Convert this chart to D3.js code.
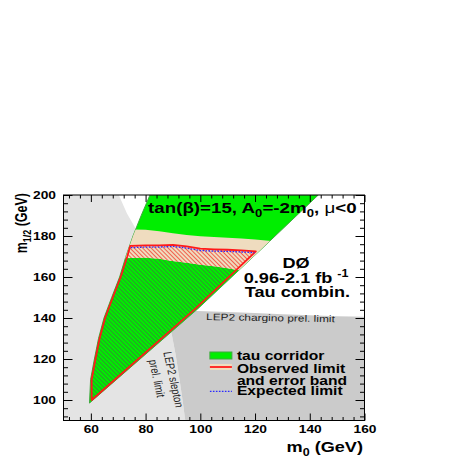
<!DOCTYPE html>
<html>
<head>
<meta charset="utf-8">
<script src="https://cdn.jsdelivr.net/npm/d3@7"></script>
<style>
body { margin: 0; background: #fff; }
svg { display: block; font-family: "Liberation Sans", Arial, sans-serif; }
</style>
</head>
<body>
<div id="app"></div>
<script>
// tick values
const xTicks = [60, 80, 100, 120, 140, 160];
const yTicks = [100, 120, 140, 160, 180, 200];
const xMinor = [52, 56, 64, 68, 72, 76, 84, 88, 92, 96, 104, 108, 112, 116, 124, 128, 132, 136, 144, 148, 152, 156];
const yMinor = [92, 96, 104, 108, 112, 116, 124, 128, 132, 136, 144, 148, 152, 156, 164, 168, 172, 176, 184, 188, 192, 196];

// all points are [m0, m1/2] in GeV
const corridorLeft = [[59.5, 98.5], [59.9, 110], [61.3, 120], [62.8, 130], [64.8, 140], [67.6, 150], [70.5, 160], [72.8, 170], [75.4, 180], [78.4, 190], [81.6, 200]];
const corridorRight = [[143.1, 200], [121.2, 172.2], [99, 144.4], [59.5, 98.5]];

const obsLeft = [[60.3, 100], [60.3, 110], [61.7, 120], [63.2, 130], [65.2, 140], [68, 150], [70.9, 160], [73.3, 170], [74.4, 175.2]];
const obsTop = [[80, 175.4], [85, 175.4], [90, 175.7], [95, 174.9], [100, 173.8], [105, 173.5], [110, 173.3], [115, 173], [120.3, 172.5]];
const obsRight = [[98.2, 144.6], [60.3, 100]];
const expLimit = [[74.6, 174.3], [80, 174.6], [85, 174.6], [90, 174.9], [95, 174.1], [100, 172.9], [105, 172.6], [110, 172.5], [115, 172.2], [119.8, 171.9]];

const bandTop = [[70, 183], [76, 183.2], [80, 183], [85, 182.3], [90, 181.3], [95, 180.5], [100, 179.9], [105, 179.5], [110, 179.2], [115, 178.8], [120, 178.3], [126, 177.6], [135, 176.5]];
const bandBottom = [[70, 169.2], [80, 169.4], [85, 168.9], [89, 167.9], [95, 167], [100, 166], [105, 165.2], [110, 164.3], [118, 162.3], [125, 161], [135, 159]];

const sleptonLimit = [[70.2, 200], [73.2, 191], [76.2, 184], [80, 172], [84, 157], [87.5, 143], [89.6, 131.7], [91, 122], [92.4, 110], [93.5, 100], [94.5, 90]];
const charginoLimit = [[87.5, 143.8], [98.8, 143.4], [110, 142.9], [120, 142.4], [130, 141.8], [140, 141.3], [150, 140.9], [160, 140.6]];

const legendLabels = ['tau corridor', 'Observed limit', 'and error band', 'Expected limit'];

const width = 463, height = 469;
const margin = { top: 195, right: 98.5, bottom: 48.5, left: 63.5 };
const S = 1.25; // text is a bit wide in the original

const x = d3.scaleLinear().domain([50, 160]).range([margin.left, width - margin.right]);
const y = d3.scaleLinear().domain([90, 200]).range([height - margin.bottom, margin.top]);
const line = d3.line(d => x(d[0]), d => y(d[1]));
const poly = pts => line(pts) + 'Z';

const svg = d3.select('#app').append('svg').attr('width', width).attr('height', height);
const defs = svg.append('defs');

const hatch = (id, color, w) => {
    const p = defs.append('pattern').attr('id', id)
        .attr('patternUnits', 'userSpaceOnUse')
        .attr('width', 3).attr('height', 3)
        .attr('patternTransform', 'rotate(-45)');
    p.append('line').attr('x1', 0.5).attr('y1', 0).attr('x2', 0.5).attr('y2', 3)
        .attr('stroke', color).attr('stroke-width', w);
};
hatch('hatchGreen', '#2c9c2c', 1);
hatch('hatchRed', '#f2604e', 1);

const corridor = corridorLeft.concat(corridorRight);
const observed = obsLeft.concat(obsTop, obsRight);
const band = bandTop.concat(bandBottom.slice().reverse());

defs.append('clipPath').attr('id', 'clipPlot').append('rect')
    .attr('x', margin.left).attr('y', margin.top)
    .attr('width', x(160) - x(50)).attr('height', y(90) - y(200));
defs.append('clipPath').attr('id', 'clipCorr').append('path').attr('d', poly(corridor));
defs.append('clipPath').attr('id', 'clipObs').append('path').attr('d', poly(observed));

const plot = svg.append('g').attr('clip-path', 'url(#clipPlot)');

// LEP2 slepton region
plot.append('path')
    .attr('d', poly([[50, 90], [50, 200]].concat(sleptonLimit)))
    .attr('fill', '#e4e4e4');

// LEP2 chargino region (closed back up along the slepton line)
const slepUp = sleptonLimit.filter(d => d[1] < 143.8).reverse();
plot.append('path')
    .attr('d', poly(charginoLimit.concat([[160, 90]], slepUp)))
    .attr('fill', '#cbcbcb');

// tau corridor
plot.append('path').attr('d', poly(corridor))
    .attr('fill', '#00ee00').attr('stroke', '#3fa83f').attr('stroke-width', 1);

const inCorr = plot.append('g').attr('clip-path', 'url(#clipCorr)');
inCorr.append('path').attr('d', poly(band)).attr('fill', '#efdcbf');
inCorr.append('path').attr('d', poly(observed)).attr('fill', 'url(#hatchGreen)');
const inObs = inCorr.append('g').attr('clip-path', 'url(#clipObs)');
inObs.append('path').attr('d', poly(band)).attr('fill', '#efdcbf');
inObs.append('path').attr('d', poly(band)).attr('fill', 'url(#hatchRed)');

// observed limit outline
plot.append('path').attr('d', poly(observed))
    .attr('fill', 'none').attr('stroke', '#ff1a1a').attr('stroke-width', 1.8)
    .attr('stroke-linejoin', 'round');

// expected limit
plot.append('path').attr('d', line(expLimit))
    .attr('fill', 'none').attr('stroke', '#2a2aff').attr('stroke-width', 1.3)
    .attr('stroke-dasharray', '1.6,1.4');

// text helper
const txt = (px, py, size, weight, anchor, rot) => svg.append('text')
    .attr('transform', `translate(${px},${py}) scale(${S},1)` + (rot ? ` rotate(${rot})` : ''))
    .attr('font-size', size).attr('font-weight', weight).attr('text-anchor', anchor);

let t = txt(x(80.9), y(191.1), 15, 'bold', 'start');
t.append('tspan').text('tan(β)=15, A');
t.append('tspan').attr('font-size', 10.5).attr('dy', 4).text('0');
t.append('tspan').attr('dy', -4).text('=-2m');
t.append('tspan').attr('font-size', 10.5).attr('dy', 4).text('0');
t.append('tspan').attr('dy', -4).text(', ');
t.append('tspan').attr('font-weight', 'normal').text('μ');
t.append('tspan').text('<0');

txt(x(135), y(164.2), 14.5, 'bold', 'middle').text('DØ');
t = txt(x(135), y(156.9), 14.5, 'bold', 'middle');
t.append('tspan').text('0.96-2.1 fb ');
t.append('tspan').attr('font-size', 10).attr('dy', -6).text('-1');
txt(x(135.5), y(150.1), 14.5, 'bold', 'middle').text('Tau combin.');

txt(x(102.1), y(139), 9.5, 'normal', 'start', 1.2).attr('fill', '#222').text('LEP2 chargino prel. limit');
txt(x(90.2), y(110), 9.5, 'normal', 'middle', 80).attr('fill', '#222').attr('dy', '0.35em').text('LEP2 slepton');
txt(x(84.2), y(110.5), 9.5, 'normal', 'middle', 80).attr('fill', '#222').attr('dy', '0.35em').text('prel. limit');

// legend
const lx = x(103.5), lw = 22;
svg.append('rect').attr('x', lx).attr('y', 352).attr('width', lw).attr('height', 7)
    .attr('fill', '#00ee00').attr('stroke', '#3fa83f');
svg.append('rect').attr('x', lx).attr('y', 364).attr('width', lw).attr('height', 6).attr('fill', '#efdcbf');
svg.append('line').attr('x1', lx).attr('x2', lx + lw).attr('y1', 367).attr('y2', 367)
    .attr('stroke', '#ff1a1a').attr('stroke-width', 1.8);
svg.append('line').attr('x1', lx).attr('x2', lx + lw).attr('y1', 391.3).attr('y2', 391.3)
    .attr('stroke', '#2a2aff').attr('stroke-width', 1.3).attr('stroke-dasharray', '1.6,1.4');
const legY = [360, 373, 384.5, 394.5];
legendLabels.forEach((l, i) => txt(lx + 27, legY[i], 12.5, 'bold', 'start').text(l));

// axes
const axG = svg.append('g');
const ax = (gen, tx, ty) => axG.append('g').attr('transform', `translate(${tx},${ty})`).call(gen)
    .call(g => g.select('.domain').remove());
const xb = height - margin.bottom, xr = width - margin.right;
ax(d3.axisBottom(x).tickValues(xTicks).tickSize(-7).tickPadding(4.5).tickFormat(d3.format('d')), 0, xb);
ax(d3.axisBottom(x).tickValues(xMinor).tickSize(-3.5).tickFormat(''), 0, xb);
ax(d3.axisTop(x).tickValues(xTicks).tickSize(-7).tickFormat(''), 0, margin.top);
ax(d3.axisTop(x).tickValues(xMinor).tickSize(-3.5).tickFormat(''), 0, margin.top);
ax(d3.axisLeft(y).tickValues(yTicks).tickSize(-9).tickPadding(6).tickFormat(d3.format('d')), margin.left, 0);
ax(d3.axisLeft(y).tickValues(yMinor).tickSize(-4.5).tickFormat(''), margin.left, 0);
ax(d3.axisRight(y).tickValues(yTicks).tickSize(-9).tickFormat(''), xr, 0);
ax(d3.axisRight(y).tickValues(yMinor).tickSize(-4.5).tickFormat(''), xr, 0);
axG.selectAll('text').attr('font-size', 11).attr('font-weight', 'bold')
    .attr('font-family', '"Liberation Sans", Arial, sans-serif').attr('fill', '#000')
    .attr('transform', `scale(${S},1)`);
axG.selectAll('line').attr('stroke', '#000');

svg.append('rect').attr('x', margin.left).attr('y', margin.top)
    .attr('width', x(160) - x(50)).attr('height', y(90) - y(200))
    .attr('fill', 'none').attr('stroke', '#000').attr('stroke-width', 1);

// axis titles
t = txt(363, 452, 14.5, 'bold', 'end');
t.append('tspan').text('m');
t.append('tspan').attr('font-size', 10).attr('dy', 4).text('0');
t.append('tspan').attr('dy', -4).text(' (GeV)');

t = txt(27, 193, 12.5, 'bold', 'end', -90);
t.append('tspan').text('m');
t.append('tspan').attr('font-size', 9).attr('dy', 3.5).text('1/2');
t.append('tspan').attr('dy', -3.5).text(' (GeV)');
</script>
</body>
</html>
